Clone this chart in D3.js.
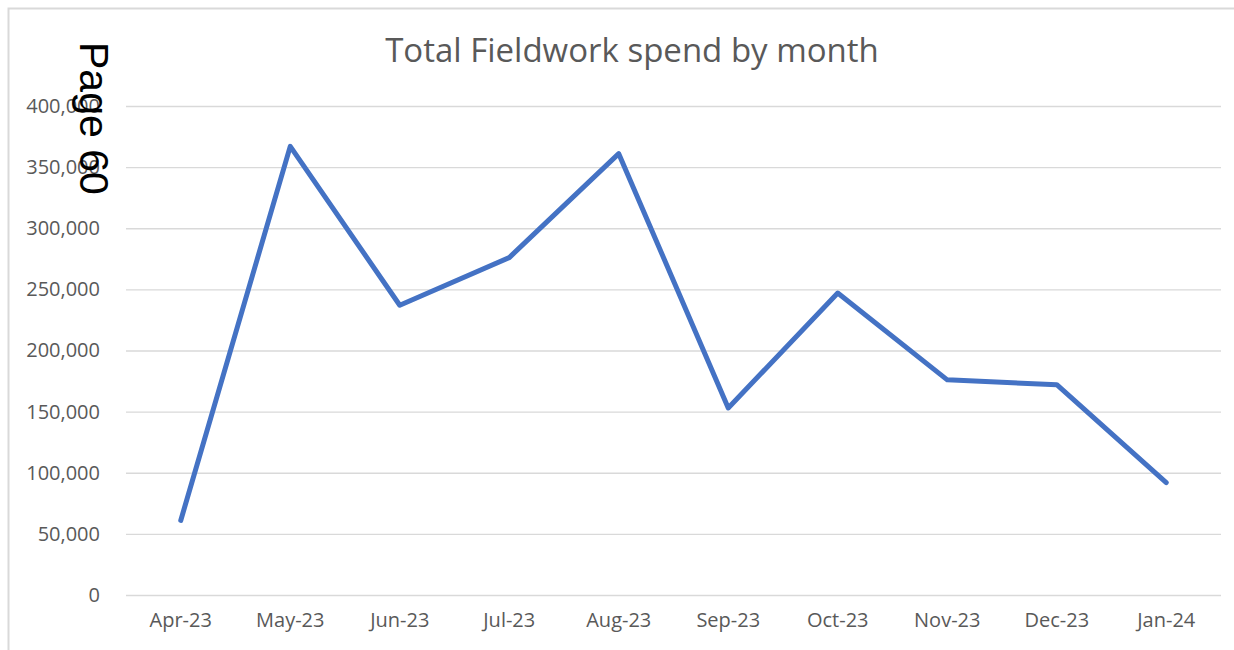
<!DOCTYPE html>
<html><head><meta charset="utf-8">
<script src="https://cdn.jsdelivr.net/npm/d3@7"></script>
<style>html,body{margin:0;padding:0;background:#fff;overflow:hidden}</style>
</head><body>
<script>
const months = ["Apr-23","May-23","Jun-23","Jul-23","Aug-23","Sep-23","Oct-23","Nov-23","Dec-23","Jan-24"];
const spend = [61000, 367000, 237000, 276000, 361000, 153000, 247000, 176000, 172000, 92000];
const yTicks = [0, 50000, 100000, 150000, 200000, 250000, 300000, 350000, 400000];
const titleText = "Total Fieldwork spend by month";
const pageText = "Page 60";

const W = 1234, H = 650;
const svg = d3.select("body").append("svg").attr("width", W).attr("height", H);

svg.append("rect").attr("x", 8.5).attr("y", 8.5).attr("width", W).attr("height", H)
  .attr("fill", "#fff").attr("stroke", "#d9d9d9").attr("stroke-width", 2);

const pLeft = 126, pRight = 1221, pTop = 106, pBottom = 595;
const x = d3.scaleBand().domain(months).range([pLeft, pRight]);
const y = d3.scaleLinear().domain([0, 400000]).range([pBottom, pTop]);

const fmt = d3.format(",");
const yAxis = svg.append("g").attr("transform", `translate(${pLeft},0)`)
  .call(d3.axisLeft(y).tickValues(yTicks).tickFormat(d => fmt(d)).tickSize(-(pRight - pLeft)).tickPadding(26));
yAxis.select(".domain").remove();
yAxis.selectAll(".tick line").attr("stroke", "#d9d9d9").attr("stroke-width", 1.3);
yAxis.selectAll(".tick text").attr("fill", "#595959").style("font-family", "'Open Sans'").style("font-size", "20px");

const xAxis = svg.append("g").attr("transform", `translate(0,${pBottom})`)
  .call(d3.axisBottom(x).tickSize(0).tickPadding(18));
xAxis.select(".domain").remove();
xAxis.selectAll(".tick text").attr("fill", "#595959").style("font-family", "'Open Sans'").style("font-size", "20px");

const line = d3.line().x((d, i) => x(months[i]) + x.bandwidth() / 2).y(d => y(d));
svg.append("path").datum(spend).attr("d", line).attr("fill", "none")
  .attr("stroke", "#4472C4").attr("stroke-width", 5).attr("stroke-linejoin", "round").attr("stroke-linecap", "round");

svg.append("text").attr("x", 632).attr("y", 62).attr("text-anchor", "middle")
  .attr("fill", "#595959").style("font-family", "'Open Sans'").style("font-size", "33px").text(titleText);

svg.append("text").attr("transform", "translate(80,42) rotate(90)")
  .attr("fill", "#000").style("font-family", "'Liberation Sans'").style("font-size", "41px").text(pageText);
</script>
</body></html>
